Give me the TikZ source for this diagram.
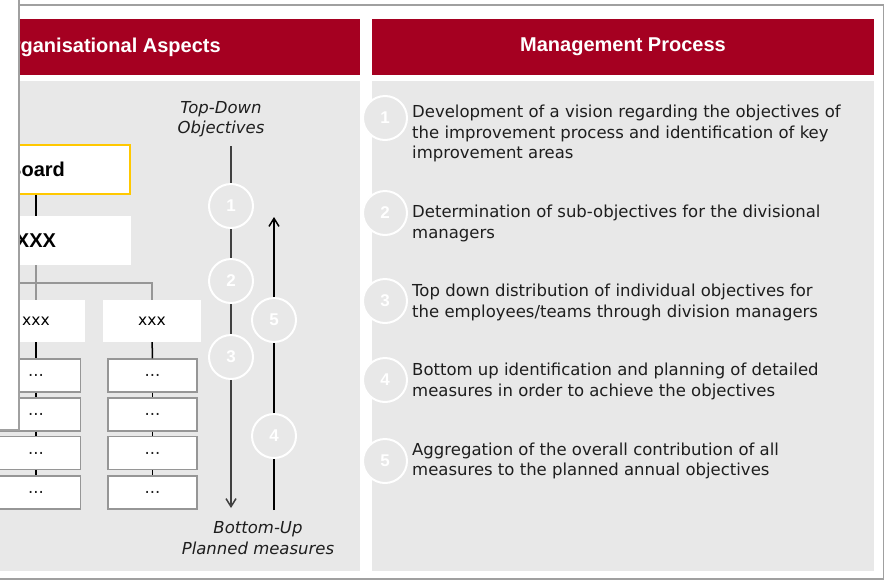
\documentclass[tikz,border=0pt]{standalone}
\usepackage{fontspec}
\setmainfont{DejaVu Sans}
\newfontfamily\headfont{Liberation Sans}
\usepackage{tikz}
\usetikzlibrary{positioning,arrows.meta}

\definecolor{headred}{RGB}{165,0,33}
\definecolor{panelgray}{RGB}{232,232,232}
\definecolor{framegray}{RGB}{160,160,160}
\definecolor{boxgray}{RGB}{150,150,150}
\definecolor{boardyellow}{RGB}{255,200,0}
\definecolor{textblack}{RGB}{30,30,30}

\newcommand{\bodysize}{\fontsize{16.5}{20.5}\selectfont}
\newcommand{\headsize}{\headfont\bfseries\fontsize{20}{24}\selectfont}
\newcommand{\unitsize}{\fontsize{15.5}{18}\selectfont}
\newcommand{\numsize}{\headfont\bfseries\fontsize{17}{20}\selectfont}

\tikzset{
    header/.style={fill=headred, text=white, font=\headsize,
        minimum width=502pt, minimum height=56pt, inner sep=0pt},
    panel/.style={fill=panelgray, minimum width=502pt,
        minimum height=490pt, inner sep=0pt},
    topbox/.style={fill=white, minimum height=49pt, inner sep=0pt,
        font=\headsize, text=black},
    unitbox/.style={fill=white, minimum width=98pt, minimum height=42pt,
        inner sep=0pt, font=\unitsize, text=black},
    taskbox/.style={fill=white, draw=boxgray, line width=1.2pt,
        minimum width=89pt, minimum height=33pt, inner sep=0pt,
        font=\bodysize, text=textblack},
    stepcirc/.style={circle, draw=white, line width=2pt, fill=panelgray,
        minimum size=44pt, inner sep=0pt, text=white, font=\numsize},
    steptext/.style={anchor=west, align=left, font=\bodysize,
        text=textblack, inner sep=0pt},
    flowlabel/.style={align=center, font=\bodysize\itshape,
        text=textblack, inner sep=0pt},
    linkblack/.style={draw=black, line width=1.5pt},
    linkgray/.style={draw=boxgray, line width=1.5pt},
    flowline/.style={line width=1.5pt},
    flowtip/.style={-{Straight Barb[length=8pt,width=10pt]}}
}

\begin{document}
\begin{tikzpicture}[x=1pt, y=-1pt]
    \useasboundingbox (0,0) rectangle (888,581);
    \clip (0,0) rectangle (888,581);
    \fill[white] (0,0) rectangle (888,581);

    %% outer frame
    \draw[framegray, line width=1.5pt] (-20,5) rectangle (883.5,579);

    %% panels and headers
    \node[panel] (leftpanel) at (109,326) {};
    \node[panel] (rightpanel) at (623,326) {};
    \node[header] (lefthead) at (109,47) {Organisational Aspects};
    \node[header] (righthead) at (623,47) {Management Process};

    %% org chart
    \node[topbox, draw=boardyellow, line width=1.5pt, minimum width=188pt]
        (board) at (36,169.5) {Board};
    \node[topbox, minimum width=190pt] (mgmt) at (36,240.5) {XXX};
    \node[unitbox] (unitA) at (36,321) {xxx};
    \node[unitbox] (unitB) at (152,321) {xxx};
    \coordinate (branchleft) at (-20,283);

    \draw[linkblack] (board) -- (mgmt);
    \draw[linkgray] (mgmt) -- (unitA);
    \draw[linkgray] (branchleft) -| (unitB);

    \foreach \col/\x in {A/36, B/152.5} {
        \foreach \row/\y in {1/375.5, 2/414.5, 3/453, 4/492.5} {
            \node[taskbox] (task\col\row) at (\x,\y) {...};
        }
        \draw[linkblack] (unit\col) -- (task\col1);
        \draw[linkblack] (task\col1) -- (task\col2);
        \draw[linkblack] (task\col2) -- (task\col3);
        \draw[linkblack] (task\col3) -- (task\col4);
    }

    %% top-down / bottom-up flow
    \node[flowlabel] (toplabel) at (221,119) {Top-Down\\Objectives};
    \node[flowlabel] (bottomlabel) at (258,538) {Bottom-Up\\Planned measures};

    \coordinate (downstart) at (231,146);
    \node[stepcirc] (down1) at (231,206) {1};
    \node[stepcirc] (down2) at (231,281) {2};
    \node[stepcirc] (down3) at (231,357) {3};
    \coordinate (downend) at (231,508);

    \coordinate (upstart) at (274,510);
    \node[stepcirc] (up4) at (274,436) {4};
    \node[stepcirc] (up5) at (274,320) {5};
    \coordinate (upend) at (274,217);

    \draw[flowline, black!75] (downstart) -- (down1);
    \draw[flowline, black!75] (down1) -- (down2);
    \draw[flowline, black!75] (down2) -- (down3);
    \draw[flowline, flowtip, black!75] (down3) -- (downend);

    \draw[flowline] (upstart) -- (up4);
    \draw[flowline] (up4) -- (up5);
    \draw[flowline, flowtip] (up5) -- (upend);

    %% management process steps
    \foreach \n/\cy/\ty/\txt in {
        1/118/133.5/{Development of a vision regarding the objectives of\\the improvement process and identification of key\\improvement areas},
        2/213/223.5/{Determination of sub-objectives for the divisional\\managers},
        3/301/302.5/{Top down distribution of individual objectives for\\the employees/teams through division managers},
        4/380/381.5/{Bottom up identification and planning of detailed\\measures in order to achieve the objectives},
        5/461/461/{Aggregation of the overall contribution of all\\measures to the planned annual objectives}} {
        \node[stepcirc] (proc\n) at (385,\cy) {\n};
        \node[steptext] (desc\n) at (412,\ty) {\txt};
    }

    %% covering window
    \fill[white] (-20,-20) rectangle (19,430);
    \draw[framegray, line width=1.5pt] (19,-20) -- (19,430) -- (-20,430);
\end{tikzpicture}
\end{document}
